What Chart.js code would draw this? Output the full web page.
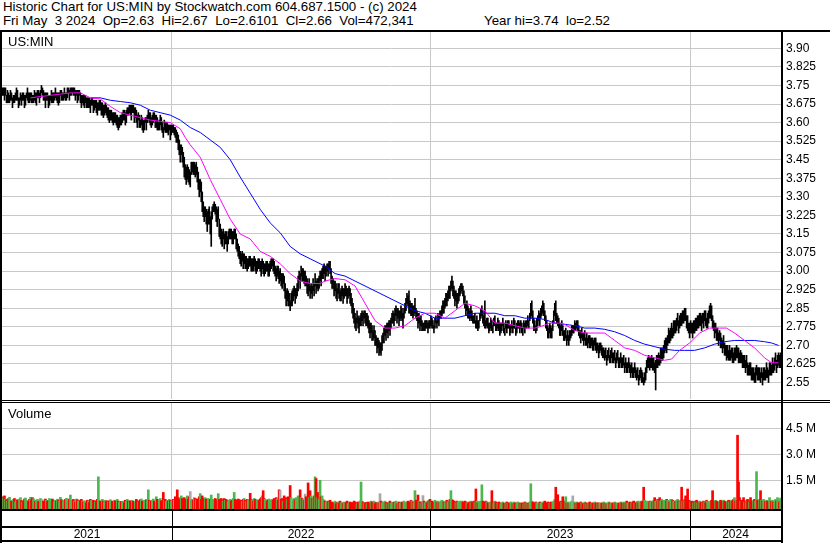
<!DOCTYPE html>
<html>
<head>
<meta charset="utf-8">
<script src="https://cdn.jsdelivr.net/npm/chart.js@4.4.1/dist/chart.umd.min.js"></script>
<style>
body { margin: 0; background: #fff; font-family: "Liberation Sans", Arial, sans-serif; }
#wrap { position: relative; width: 830px; height: 543px; overflow: hidden; background: #fff; }
canvas { position: absolute; left: 0; }
.blk { position: absolute; background: #000; }
.txt { position: absolute; white-space: pre; color: #000; line-height: 13px; }
.hdr { left: 3px; font-size: 13.3px; }
.yr { top: 528px; font-size: 12px; text-align: center; }
</style>
</head>
<body>
<div id="wrap">
  <div class="txt hdr" style="top:0px">Historic Chart for US:MIN by Stockwatch.com 604.687.1500 - (c) 2024</div>
  <div class="txt hdr" style="top:14px">Fri May  3 2024  Op=2.63  Hi=2.67  Lo=2.6101  Cl=2.66  Vol=472,341</div>
  <div class="txt hdr" style="top:14px;left:0;width:610px;text-align:right">Year hi=3.74  lo=2.52</div>
  <canvas id="price" width="830" height="367" style="top:32px"></canvas>
  <canvas id="volume" width="830" height="106" style="top:403px"></canvas>
  <div class="txt" style="left:8px;top:35px;font-size:13px">US:MIN</div>
  <div class="txt" style="left:8px;top:407px;font-size:13px">Volume</div>
</div>
<script>
// daily closes in cents, May 2021 - May 3 2024
var closes = [
372,373,371,372,370,371,369,370,371,370, 368,370,369,371,372,370,368,369,370,369,
371,370,368,369,371,372,370,369,371,370, 369,370,371,369,370,372,371,370,372,373,
373,371,370,369,371,370,368,369,370,371, 370,369,371,372,370,371,369,370,372,371,
370,371,372,370,371,372,373,371,372,373, 374,372,373,371,372,370,371,372,370,369,
370,368,369,370,368,367,369,368,366,368, 369,367,366,368,367,365,366,368,367,365,
366,364,365,367,365,363,364,362,363,364, 362,361,363,362,360,361,359,360,362,361,
362,364,363,361,363,365,364,366,365,364, 366,365,363,364,362,361,363,360,359,361,
360,358,359,361,360,362,363,361,362,360, 361,363,362,360,361,359,358,360,361,359,
358,357,359,357,358,359,357,358,356,357, 358,357,357,356,355,354,352,350,348,349,
347,345,342,340,338,341,339,337,337,342, 343,341,342,340,342,339,336,334,335,332,
328,325,323,324,322,320,322,323,318,322, 324,326,327,325,323,321,324,318,316,314,
313,315,312,314,313,311,314,315,316,315, 313,314,316,315,312,310,309,307,306,305,
306,304,305,303,304,302,303,305,304,302, 303,302,304,303,301,302,304,303,302,301,
303,302,300,301,303,302,300,301,302,303, 304,303,301,300,299,300,299,298,298,297,
296,297,295,292,289,291,289,288,286,289, 289,291,292,290,291,293,295,298,296,300,
298,299,297,297,296,294,293,294,292,293, 292,294,293,296,294,295,294,296,298,297,
299,300,301,299,300,302,301,303,302,298, 296,295,293,294,292,291,293,292,290,291,
292,290,291,293,292,290,291,292,290,289, 286,284,282,280,279,281,280,278,280,281,
282,281,283,282,280,281,279,278,276,277, 275,274,276,273,272,270,271,269,269,268,
271,273,274,276,275,277,276,278,277,279, 281,282,280,283,284,282,283,281,282,284,
282,280,283,285,287,289,288,286,285,284, 285,283,284,286,283,282,280,281,279,280,
278,278,277,278,279,278,277,279,278,280, 279,278,277,279,280,279,281,280,282,283,
284,286,285,287,289,288,290,292,291,294, 295,293,291,289,290,288,289,291,292,293,
294,292,290,287,285,286,284,283,282,284, 282,281,280,281,279,280,278,279,281,283,
284,282,280,279,278,280,279,277,278,279, 278,277,279,280,278,277,279,278,276,277,
278,279,277,276,278,277,279,278,276,277, 278,277,279,278,276,277,278,279,277,278,
277,276,278,277,279,278,280,279,281,283, 284,281,279,278,277,279,280,282,281,283,
284,286,284,282,280,278,276,275,277,276, 275,278,281,284,283,281,280,279,277,276,
278,276,275,274,275,273,274,272,274,275, 276,276,277,278,277,279,278,276,275,274,
275,274,273,274,272,273,271,273,272,271, 272,271,270,272,271,269,270,268,269,270,
268,267,268,266,267,265,266,267,265,266, 267,266,265,266,264,265,266,264,263,265,
264,263,264,262,263,261,262,263,261,260, 261,260,259,261,260,258,259,257,258,259,
258,257,256,257,259,261,263,264,262,263, 264,262,263,261,262,264,263,265,264,266,
267,266,268,269,271,270,272,274,273,275, 276,275,277,278,277,279,280,278,279,281,
280,282,281,283,282,280,279,277,276,278, 277,276,278,277,279,278,280,279,281,280,
279,281,280,282,281,279,280,282,283,284, 282,280,278,276,277,275,274,273,274,272,
271,270,271,269,268,267,268,266,267,266, 267,266,265,267,266,268,267,266,265,266,
265,264,263,264,262,263,261,260,261,260, 259,258,259,257,258,260,259,258,259,257,
259,257,258,259,258,260,259,258,260,261, 260,262,261,263,264,262,263,265,263,266
];
// cents from close up to the day's high
var hiOff = [
2,1,3,2,1,2,3,1,2,2, 2,1,2,1,2,3,2,1,2,2, 1,2,3,2,1,2,2,3,1,2, 2,1,2,3,2,1,2,2,1,2,
1,2,2,3,1,2,3,2,1,2, 2,3,1,2,2,1,3,2,1,2, 2,1,2,2,1,2,1,2,2,1, 0,2,1,2,1,3,2,1,2,2,
1,3,2,1,2,3,1,2,3,2, 1,2,3,1,2,3,2,1,2,3, 2,3,2,1,2,3,2,3,2,1, 2,3,1,2,3,2,3,2,1,2,
2,1,2,3,2,1,2,1,2,3, 1,2,3,2,3,2,1,3,2,2, 2,3,2,1,2,1,2,3,2,2, 2,1,2,3,2,3,2,1,2,3,
2,1,2,3,2,1,2,1,3,2, 1,2,1,2,2,2,3,3,3,2, 3,3,4,3,4,2,3,4,3,2, 1,3,2,3,2,3,4,3,2,4,
4,3,3,2,3,4,3,3,4,2, 2,1,1,2,3,4,2,3,3,3, 3,2,3,2,3,3,2,2,1,2, 3,2,1,2,3,3,2,3,2,2,
2,3,2,3,2,3,2,1,2,3, 2,3,2,2,3,2,1,2,2,3, 2,2,3,2,1,2,3,2,2,2, 1,2,3,2,2,2,3,2,3,2,
3,2,3,3,3,2,3,3,2,2, 3,2,2,3,2,2,3,2,3,2, 3,2,3,3,2,3,2,3,2,2, 2,3,2,3,2,2,3,2,2,3,
2,2,2,3,2,1,2,1,2,3, 2,2,3,2,3,2,2,3,2,2, 2,3,2,2,2,3,2,2,3,2, 3,3,3,3,2,3,2,3,2,2,
2,2,1,2,3,2,3,2,3,2, 3,2,2,3,2,3,2,3,2,3, 3,2,3,2,3,2,3,2,3,2, 2,2,3,2,2,3,2,3,2,2,
3,3,2,2,2,2,2,6,3,3, 2,3,2,3,2,2,3,2,2,2, 2,1,2,2,1,2,2,1,2,2, 2,2,1,2,2,1,2,2,2,1,
2,2,3,2,2,3,2,2,3,2, 3,3,3,3,2,3,2,2,2,2, 1,2,2,3,2,2,2,2,2,2, 2,1,2,2,1,2,2,1,2,2,
2,2,2,9,2,1,2,2,1,2, 2,1,2,2,1,2,2,2,3,2, 1,2,2,1,2,2,1,2,2,1, 2,1,2,2,1,2,2,1,2,2,
2,1,2,2,1,2,2,1,2,4, 4,3,2,2,1,2,2,2,2,2, 2,2,3,2,2,2,2,2,2,2, 2,2,3,3,5,2,2,2,2,2,
2,2,1,2,2,1,2,2,2,1, 2,2,1,2,2,1,2,2,1,2, 2,1,2,2,1,2,2,1,2,2, 1,2,2,1,2,2,1,2,2,1,
2,2,1,2,2,1,2,2,1,2, 2,1,2,2,1,2,2,1,2,2, 1,2,2,1,2,2,1,2,2,2, 2,1,2,2,1,2,2,1,2,2,
2,2,1,2,2,3,2,2,3,2, 2,3,2,2,2,2,3,2,2,3, 2,3,2,3,2,3,2,3,3,2, 3,2,3,2,3,2,3,2,3,2,
3,2,3,2,3,2,3,2,3,2, 2,3,2,3,2,3,2,3,2,3, 3,2,3,2,3,2,3,2,3,3, 4,2,2,3,2,2,3,2,2,3,
2,2,3,2,2,3,2,2,3,2, 2,3,2,2,3,2,2,3,2,2, 2,2,3,2,2,3,2,2,2,3, 2,3,2,2,3,2,2,3,2,2,
2,2,3,2,2,3,2,2,3,2, 2,3,2,2,3,2,3,2,3,1
];
// cents from close down to the day's low
var loOff = [
1,2,2,1,2,3,1,2,2,1, 2,2,1,2,3,1,2,2,1,2, 2,1,2,2,1,3,2,1,2,2, 1,2,2,1,3,2,1,2,2,1,
2,2,1,3,2,1,2,2,1,3, 2,1,2,2,1,3,2,2,1,2, 1,2,2,1,2,2,1,2,1,2, 2,1,2,2,1,2,2,1,2,3,
2,1,3,2,2,1,3,2,2,1, 2,3,1,2,3,2,1,3,2,2, 3,2,2,3,2,1,3,2,2,3, 2,2,3,2,1,3,2,2,3,2,
2,3,2,2,3,2,1,2,2,3, 2,1,3,2,2,3,2,2,1,2, 3,2,2,1,3,2,2,1,3,2, 2,3,1,2,3,2,1,3,2,2,
2,3,2,1,2,3,2,1,3,2, 2,1,2,2,3,2,3,3,4,2, 3,3,4,3,3,4,3,2,3,3, 3,2,3,2,3,3,3,4,3,4,
4,3,3,2,3,4,3,4,3,12, 3,2,3,2,3,3,3,4,3,3, 3,2,3,3,2,3,3,2,3,2, 2,3,3,2,3,2,3,2,3,3,
2,3,2,2,3,2,2,3,2,2, 3,2,2,3,2,2,3,2,2,3, 2,3,2,2,3,2,2,3,2,2, 2,3,2,2,3,2,2,3,2,3,
3,2,3,3,3,3,3,2,2,3, 3,3,2,3,2,3,3,2,3,2, 2,3,2,3,2,3,3,2,3,2, 3,2,3,2,3,2,2,3,2,3,
2,3,2,3,2,2,3,2,3,3, 3,2,3,2,3,3,2,3,2,3, 2,3,2,3,2,3,2,2,3,3, 3,3,3,3,3,2,3,3,2,3,
2,3,2,3,2,3,2,3,3,2, 3,2,3,3,2,3,2,3,2,2, 3,2,3,2,3,2,3,2,3,2, 2,3,2,3,2,3,2,3,2,3,
2,3,2,2,3,2,2,3,2,2, 3,2,2,3,2,2,3,2,3,2, 2,2,1,2,2,1,2,2,1,2, 2,1,2,2,1,2,2,2,1,2,
2,3,2,2,3,2,2,3,2,2, 2,3,2,3,2,3,2,3,2,2, 2,2,3,2,3,2,3,2,2,3, 2,2,1,2,2,3,2,2,1,2,
2,3,2,2,1,2,2,2,2,2, 2,2,1,2,2,1,2,2,2,2, 2,1,2,2,1,2,2,1,2,2, 1,2,2,1,2,2,1,2,2,1,
2,2,1,2,2,1,2,2,1,2, 2,2,3,2,2,3,2,2,3,2, 2,3,2,2,3,2,3,2,2,3, 2,2,2,2,3,2,2,2,3,2,
2,2,3,2,2,3,2,2,2,2, 2,1,2,2,1,2,2,2,2,3, 2,2,3,2,2,3,2,2,3,2, 2,3,2,2,3,2,2,3,2,2,
2,2,3,2,2,3,2,2,2,3, 2,3,2,2,3,2,2,3,2,2, 3,2,2,3,2,2,3,2,2,3, 2,3,2,2,3,2,2,3,2,2,
3,2,2,2,3,2,2,3,2,2, 3,2,3,2,10,3,2,3,2,3, 3,2,3,2,3,3,2,3,2,3, 3,2,3,3,2,3,2,3,2,3,
2,3,2,3,2,3,3,2,3,3, 2,3,3,2,3,2,3,2,3,2, 3,2,3,2,3,2,3,3,2,3, 2,3,2,3,2,3,2,3,2,3,
2,3,2,3,2,3,3,2,3,2, 2,3,2,3,2,3,2,3,2,3, 2,3,2,3,3,2,3,2,3,2, 3,2,3,2,3,2,3,2,3,2,
2,3,2,3,2,3,2,3,2,3, 2,3,2,3,2,3,2,3,2,5
];
// daily volume, thousands of shares
var volumes = [
550,480,600,420,380,300,450,520,350,280, 300,400,450,250,350,380,300,420,500,330,
250,300,420,480,350,300,280,400,520,380, 500,430,360,280,320,400,260,300,450,350,
380,300,250,420,350,280,330,450,380,300, 420,320,280,350,300,410,360,300,520,380,
300,350,280,400,460,330,380,420,650,300, 350,400,300,250,420,380,300,260,350,400,
300,250,320,280,200,350,300,220,400,330, 280,350,300,250,320,400,1700,350,300,280,
400,300,260,350,280,320,250,300,380,270, 300,260,350,320,280,400,300,250,200,280,
250,300,200,350,280,400,300,260,320,300, 350,280,220,300,400,320,250,300,380,420,
300,260,350,280,380,400,950,350,300,280, 350,420,300,280,550,400,300,380,450,320,
300,800,350,400,300,260,330,400,350,300, 300,400,350,550,380,950,500,350,420,600,
450,380,500,420,350,600,400,550,850,380, 400,350,500,450,380,420,300,550,730,400,
600,450,380,500,420,350,450,380,400,650, 350,400,300,450,380,350,730,400,300,450,
380,300,450,350,400,320,280,350,400,300, 350,450,800,400,300,350,420,380,300,350,
300,400,450,350,280,400,380,300,750,400, 350,300,450,400,320,380,300,350,420,500,
600,900,450,400,350,300,380,420,300,350, 400,350,450,380,500,420,350,950,900,400,
450,300,600,400,500,380,550,420,1200,500, 400,350,450,380,500,420,600,450,950,500,
450,400,350,700,550,400,1350,500,900,600, 450,500,600,1700,1600,500,800,400,1500,550,
600,400,350,300,250,200,300,250,350,200, 250,180,200,300,150,220,250,180,300,200,
150,200,250,180,220,300,150,200,250,180, 220,180,300,250,200,150,250,200,300,1400,
300,250,200,180,220,150,250,200,180,300, 250,200,300,150,220,180,250,200,730,300,
200,250,180,300,220,150,200,250,300,180, 220,180,250,200,300,150,200,250,180,220,
250,200,300,220,180,250,300,200,250,350, 300,250,200,900,350,250,650,300,250,200,
250,620,300,200,250,180,300,350,400,250, 300,250,200,350,280,250,300,200,250,300,
350,300,250,200,300,350,250,300,400,900, 400,350,300,250,200,300,250,200,300,250,
300,250,200,300,250,200,150,250,200,300, 250,200,300,250,1000,300,200,250,300,200,
1240,300,250,200,300,250,200,180,250,200, 900,250,200,300,250,200,180,250,200,150,
200,250,180,150,200,250,180,200,150,250, 200,150,250,180,200,150,250,200,180,150,
200,180,150,250,200,180,150,200,250,1300, 300,250,200,180,250,200,150,200,250,180,
200,250,180,300,200,150,250,200,180,250, 200,250,300,400,1100,300,670,250,200,300,
250,550,300,250,550,200,250,180,200,250, 300,600,250,200,180,250,200,150,200,250,
200,150,180,250,200,150,180,200,250,150, 180,200,150,250,180,200,150,200,180,150,
200,150,250,180,200,150,180,250,200,150, 180,200,150,250,180,200,150,180,200,250,
200,150,250,180,200,300,180,200,250,180, 200,250,300,180,200,250,300,200,250,300,
250,300,1100,350,250,300,250,200,300,250, 300,250,350,500,300,250,400,350,500,300,
400,300,350,250,300,400,350,300,250,400, 400,350,300,250,300,350,400,300,250,350,
1100,300,350,400,600,300,1000,350,300,250, 300,250,200,300,250,350,200,250,300,200,
250,200,300,250,200,350,300,250,200,300, 350,900,300,250,350,300,250,200,300,350,
300,250,350,300,250,200,300,350,250,300, 350,300,400,500,300,350,4100,1400,500,300,
350,300,500,250,300,350,400,300,250,500, 300,250,350,400,300,2000,350,300,400,900,
350,300,400,250,300,350,300,250,500,300, 300,350,250,300,400,300,500,350,250,472
];

// moving averages (day index, price)
var maFastDays = [28,38,48,58,68,78,88,98,108,118, 128,138,148,158,168,178,183,188,198,208,
  218,228,238,248,258,268,278,288,298,308, 318,323,333,343,353,363,373,383,393,403,
  413,423,433,443,453,463,473,483,493,503, 513,523,533,538,548,558,563,573,583,593,
  603,613,623,633,643,653,663,670,678,688, 698,708,718,725,733,743,753,763,770,777];
var maFastVals = [3.70,3.705,3.71,3.715,3.72,3.72,3.70,3.695,3.665,3.64, 3.63,3.62,3.61,3.605,3.60,3.575,3.54,3.51,3.46,3.37,
  3.29,3.21,3.15,3.13,3.08,3.06,3.03,2.99,2.96,2.95, 2.95,2.96,2.97,2.965,2.94,2.87,2.80,2.77,2.77,2.78,
  2.81,2.83,2.83,2.81,2.84,2.87,2.86,2.84,2.79,2.79, 2.78,2.77,2.77,2.775,2.79,2.79,2.785,2.76,2.75,2.75,
  2.75,2.72,2.69,2.68,2.66,2.65,2.64,2.645,2.68,2.71, 2.75,2.77,2.77,2.77,2.75,2.72,2.69,2.65,2.63,2.63];
var maSlowDays = [90,98,108,118,128,138,148,158,168,178, 188,198,208,218,228,238,248,258,268,278,
  288,298,308,323,333,343,353,363,373,383, 393,403,413,423,433,443,453,463,473,483,
  493,503,513,523,533,543,553,563,573,583, 593,603,613,623,633,643,653,663,673,683,
  693,703,713,723,733,743,753,763,770,777];
var maSlowVals = [3.70,3.70,3.69,3.685,3.68,3.67,3.65,3.64,3.63,3.61, 3.58,3.56,3.53,3.50,3.45,3.38,3.315,3.25,3.195,3.155,
  3.10,3.07,3.05,3.02,2.99,2.98,2.96,2.94,2.92,2.90, 2.88,2.86,2.84,2.83,2.81,2.81,2.81,2.82,2.83,2.83,
  2.83,2.82,2.82,2.81,2.81,2.805,2.79,2.785,2.78,2.77, 2.77,2.765,2.755,2.74,2.72,2.705,2.695,2.685,2.68,2.68,
  2.68,2.69,2.705,2.715,2.72,2.72,2.72,2.715,2.71,2.70];

var yearNames = ['2021', '2022', '2023', '2024'];
var yearStarts = [0, 170, 429, 689];
var priceTicks = ['2.55','2.625','2.70','2.775','2.85','2.925','3.00','3.075','3.15','3.225','3.30','3.375','3.45','3.525','3.60','3.675','3.75','3.825','3.90'];
var volTicks = [1500, 3000, 4500];
var volTickLabels = ['1.5 M', '3.0 M', '4.5 M'];

var N = closes.length;
var GRID = '#c8c8c8';
Chart.defaults.font.family = '"Liberation Sans", Arial, sans-serif';
Chart.defaults.color = '#000';

var priceBars = closes.map(function (c, i) {
  return { x: i, y: [(c - loOff[i]) / 100, (c + hiOff[i]) / 100] };
});
var volColors = closes.map(function (c, i) {
  if (i === 0) return '#ff0000';
  if (c === closes[i - 1]) return '#a8a8a8';
  return c > closes[i - 1] ? '#4cb84c' : '#ff0000';
});

function xAxis() {
  return {
    type: 'linear', min: -0.5, max: N - 0.5, offset: false,
    ticks: { display: false },
    grid: { color: GRID, drawTicks: false, offset: false },
    border: { display: false },
    afterBuildTicks: function (s) {
      s.ticks = yearStarts.slice(1).map(function (v) { return { value: v - 0.5 }; });
    },
    afterFit: function (s) { s.height = 0; s.paddingLeft = 0; s.paddingRight = 0; }
  };
}

var priceChart = new Chart(document.getElementById('price'), {
  type: 'bar',
  data: {
    datasets: [
      { type: 'line', data: maFastDays.map(function (d, i) { return { x: d, y: maFastVals[i] }; }),
        borderColor: '#ff00ff', borderWidth: 1, pointRadius: 0, tension: 0, order: 1 },
      { type: 'line', data: maSlowDays.map(function (d, i) { return { x: d, y: maSlowVals[i] }; }),
        borderColor: '#0000ff', borderWidth: 1, pointRadius: 0, tension: 0, order: 2 },
      { type: 'bar', data: priceBars, backgroundColor: '#000', barThickness: 1, order: 3 }
    ]
  },
  options: {
    responsive: false, animation: false, events: [], devicePixelRatio: 1,
    layout: { padding: { left: 2, right: 0, top: 0, bottom: 0 } },
    plugins: { legend: { display: false }, tooltip: { enabled: false } },
    scales: {
      x: xAxis(),
      y: {
        position: 'right', min: 2.4836, max: 3.9658,
        grid: { color: GRID, drawTicks: false },
        border: { display: false },
        ticks: { padding: 5, font: { size: 12 }, callback: function (v, i) { return priceTicks[i]; } },
        afterBuildTicks: function (s) {
          s.ticks = priceTicks.map(function (t) { return { value: parseFloat(t) }; });
        },
        afterFit: function (s) { s.width = 49; s.paddingTop = 0; s.paddingBottom = 0; }
      }
    }
  }
});

var volMin = -156;
var volChart = new Chart(document.getElementById('volume'), {
  type: 'bar',
  data: {
    datasets: [{
      data: volumes.map(function (v, i) { return { x: i, y: v }; }),
      backgroundColor: volColors, barThickness: 2, base: volMin
    }]
  },
  options: {
    responsive: false, animation: false, events: [], devicePixelRatio: 1,
    layout: { padding: { left: 2, right: 0, top: 0, bottom: 0 } },
    plugins: { legend: { display: false }, tooltip: { enabled: false } },
    scales: {
      x: xAxis(),
      y: {
        position: 'right', min: volMin, max: 5960,
        grid: { color: GRID, drawTicks: false },
        border: { display: false },
        ticks: { padding: 5, font: { size: 12 }, callback: function (v, i) { return volTickLabels[i]; } },
        afterBuildTicks: function (s) {
          s.ticks = volTicks.map(function (t) { return { value: t }; });
        },
        afterFit: function (s) { s.width = 49; s.paddingTop = 0; s.paddingBottom = 0; }
      }
    }
  }
});

// frame lines and year strip
var wrap = document.getElementById('wrap');
function box(l, t, w, h) {
  var d = document.createElement('div');
  d.className = 'blk';
  d.style.cssText = 'left:' + l + 'px;top:' + t + 'px;width:' + w + 'px;height:' + h + 'px';
  wrap.appendChild(d);
}
box(0, 30, 830, 2);     // under header
box(0, 30, 2, 513);     // left edge
box(781, 30, 2, 513);   // right axis line
box(0, 400, 830, 1);    // double line between panels
box(0, 402, 830, 1);
box(0, 509, 783, 2);
box(0, 526, 783, 2);
box(0, 540, 783, 2);

var xs = volChart.scales.x;
var edges = yearStarts.map(function (d, k) { return k === 0 ? 2 : Math.round(xs.getPixelForValue(d - 0.5)); });
edges.push(781);
yearNames.forEach(function (name, k) {
  if (k > 0) box(edges[k], 511, 1, 30);
  var t = document.createElement('div');
  t.className = 'txt yr';
  t.style.left = edges[k] + 'px';
  t.style.width = (edges[k + 1] - edges[k]) + 'px';
  t.textContent = name;
  wrap.appendChild(t);
});
</script>
</body>
</html>
